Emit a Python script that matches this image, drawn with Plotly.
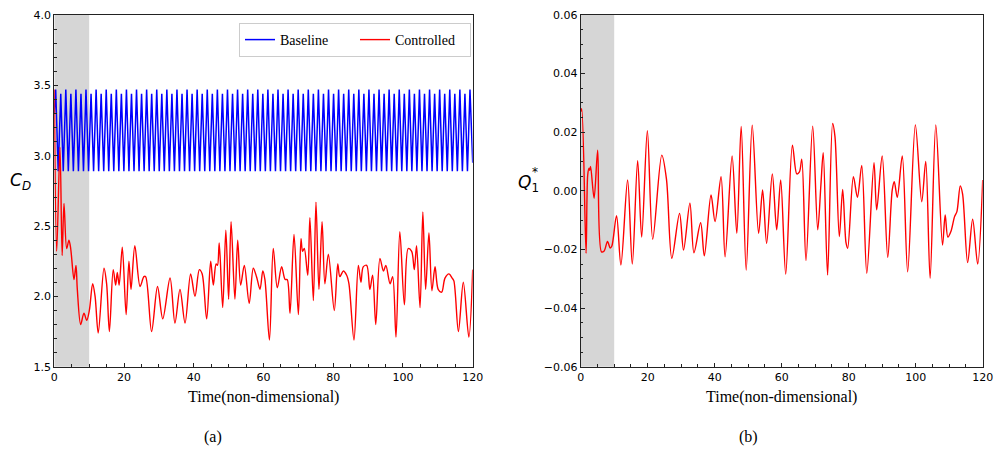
import plotly.graph_objects as go

# ---------------- data ----------------
# Baseline C_D: extrema of the periodic signal (time, value)
base_t = [0.00,
    0.40, 1.12, 1.85, 2.57, 3.30, 4.02, 4.75, 5.47, 6.20, 6.92,
    7.65, 8.37, 9.09, 9.82, 10.54, 11.27, 11.99, 12.72, 13.44, 14.17,
    14.89, 15.61, 16.34, 17.06, 17.79, 18.51, 19.24, 19.96, 20.69, 21.41,
    22.14, 22.86, 23.58, 24.31, 25.03, 25.76, 26.48, 27.21, 27.93, 28.66,
    29.38, 30.10, 30.83, 31.55, 32.28, 33.00, 33.73, 34.45, 35.18, 35.90,
    36.63, 37.35, 38.07, 38.80, 39.52, 40.25, 40.97, 41.70, 42.42, 43.15,
    43.87, 44.59, 45.32, 46.04, 46.77, 47.49, 48.22, 48.94, 49.67, 50.39,
    51.12, 51.84, 52.56, 53.29, 54.01, 54.74, 55.46, 56.19, 56.91, 57.64,
    58.36, 59.08, 59.81, 60.53, 61.26, 61.98, 62.71, 63.43, 64.16, 64.88,
    65.61, 66.33, 67.05, 67.78, 68.50, 69.23, 69.95, 70.68, 71.40, 72.13,
    72.85, 73.57, 74.30, 75.02, 75.75, 76.47, 77.20, 77.92, 78.65, 79.37,
    80.10, 80.82, 81.54, 82.27, 82.99, 83.72, 84.44, 85.17, 85.89, 86.62,
    87.34, 88.06, 88.79, 89.51, 90.24, 90.96, 91.69, 92.41, 93.14, 93.86,
    94.59, 95.31, 96.03, 96.76, 97.48, 98.21, 98.93, 99.66, 100.38, 101.11,
    101.83, 102.55, 103.28, 104.00, 104.73, 105.45, 106.18, 106.90, 107.63, 108.35,
    109.08, 109.80, 110.52, 111.25, 111.97, 112.70, 113.42, 114.15, 114.87, 115.60,
    116.32, 117.04, 117.77, 118.49, 119.22,
    120.00]
base_v = [3.30,
    3.47, 2.89, 3.44, 2.89, 3.47, 2.89, 3.44, 2.89,
    3.47, 2.89, 3.44, 2.89, 3.47, 2.89, 3.44, 2.89,
    3.47, 2.89, 3.44, 2.89, 3.47, 2.89, 3.44, 2.89,
    3.47, 2.89, 3.44, 2.89, 3.47, 2.89, 3.44, 2.89,
    3.47, 2.89, 3.44, 2.89, 3.47, 2.89, 3.44, 2.89,
    3.47, 2.89, 3.44, 2.89, 3.47, 2.89, 3.44, 2.89,
    3.47, 2.89, 3.44, 2.89, 3.47, 2.89, 3.44, 2.89,
    3.47, 2.89, 3.44, 2.89, 3.47, 2.89, 3.44, 2.89,
    3.47, 2.89, 3.44, 2.89, 3.47, 2.89, 3.44, 2.89,
    3.47, 2.89, 3.44, 2.89, 3.47, 2.89, 3.44, 2.89,
    3.47, 2.89, 3.44, 2.89, 3.47, 2.89, 3.44, 2.89,
    3.47, 2.89, 3.44, 2.89, 3.47, 2.89, 3.44, 2.89,
    3.47, 2.89, 3.44, 2.89, 3.47, 2.89, 3.44, 2.89,
    3.47, 2.89, 3.44, 2.89, 3.47, 2.89, 3.44, 2.89,
    3.47, 2.89, 3.44, 2.89, 3.47, 2.89, 3.44, 2.89,
    3.47, 2.89, 3.44, 2.89, 3.47, 2.89, 3.44, 2.89,
    3.47, 2.89, 3.44, 2.89, 3.47, 2.89, 3.44, 2.89,
    3.47, 2.89, 3.44, 2.89, 3.47, 2.89, 3.44, 2.89,
    3.47, 2.89, 3.44, 2.89, 3.47, 2.89, 3.44, 2.89,
    3.47, 2.89, 3.44, 2.89, 3.47, 2.89, 3.44, 2.89,
    3.47, 2.89, 3.44, 2.89, 3.47,
    2.95]

# Controlled C_D
ctrl_t = [0.0, 0.69, 1.63, 2.25, 2.78, 3.55, 4.2, 4.7, 5.65, 6.22, 6.6, 7.56, 8.5, 9.3,
          10.05, 11.0, 11.7, 12.6, 14.25, 15.0, 15.8, 16.9, 17.6, 18.07, 18.6, 19.5,
          20.6, 21.4, 22.0, 23.1, 24.6, 25.7, 26.2, 27.9, 29.6, 31.1, 33.2, 34.6,
          36.05, 37.5, 39.1, 40.35, 41.6, 42.4, 43.7, 44.85, 45.6, 46.4, 46.8, 47.3,
          48.3, 49.2, 50.0, 50.7, 51.8, 52.6, 53.45, 54.5, 55.9, 57.07, 58.0, 59.0,
          59.8, 60.4, 61.7, 62.8, 63.95, 65.2, 66.2, 66.8, 67.6, 68.75, 70.0, 70.75,
          71.2, 71.7, 72.7, 73.3, 74.3, 75.05, 75.9, 76.8, 77.6, 78.6, 80.3, 81.3,
          81.9, 82.9, 83.85, 84.5, 85.95, 87.2, 87.95, 88.6, 89.6, 90.5, 91.3, 92.2,
          93.4, 94.4, 95.1, 96.3, 97.05, 98.0, 99.1, 100.4, 101.5, 102.5, 103.25,
          103.9, 104.9, 105.7, 106.5, 107.45, 108.3, 109.2, 110.1, 111.1, 112.05,
          113.2, 114.1, 114.6, 115.9, 117.3, 118.9, 120.0]
ctrl_v = [3.47, 2.32, 3.06, 2.29, 2.66, 2.34, 2.40, 2.34, 2.12, 2.22, 2.05, 1.80, 1.88, 1.83,
          1.90, 2.09, 2.00, 1.74, 2.20, 2.09, 1.75, 2.19, 2.08, 2.17, 2.08, 2.35,
          1.87, 2.25, 2.05, 2.36, 2.07, 2.14, 2.14, 1.75, 2.07, 1.84, 2.13, 1.81,
          2.05, 1.81, 2.16, 2.00, 2.19, 2.16, 1.84, 2.25, 2.08, 2.23, 2.22, 2.38,
          1.92, 2.47, 1.98, 2.53, 1.98, 2.40, 2.08, 2.22, 1.95, 2.20, 2.14, 2.05,
          2.18, 2.12, 1.69, 2.34, 2.06, 2.21, 2.12, 2.12, 1.88, 2.44, 1.87, 2.41,
          2.32, 2.34, 2.15, 2.56, 1.97, 2.67, 2.05, 2.53, 2.09, 2.30, 1.90, 2.23,
          2.14, 2.18, 2.15, 2.09, 1.69, 2.22, 2.10, 2.21, 2.22, 2.05, 2.15, 1.80,
          2.27, 2.18, 2.22, 2.09, 2.14, 1.71, 2.46, 1.94, 2.34, 2.32, 2.19,
          2.36, 1.92, 2.60, 2.05, 2.45, 2.04, 2.21, 2.05, 2.03, 2.13,
          2.16, 2.13, 2.11, 1.75, 2.10, 1.71, 2.19]

# Controlled Q1*
q_t = [0.0, 0.3, 1.6, 2.1, 2.5, 2.7, 2.95, 4.0, 5.07, 6.2, 7.0, 8.0, 8.8, 9.3, 10.7, 12.0,
       14.0, 15.4, 17.0, 18.2, 19.9, 21.5, 24.2, 25.6, 27.2, 29.5, 30.7, 32.6, 33.8,
       35.8, 36.9, 38.9, 40.1, 41.9, 43.1, 45.2, 46.6, 47.9, 49.4, 51.2, 53.1, 54.3,
       55.5, 57.2, 58.5, 59.7, 61.2, 63.2, 64.5, 65.3, 66.0, 67.25, 69.25, 70.75,
       71.7, 72.4, 73.7, 75.2, 75.9, 77.2, 78.2, 79.2, 79.7, 81.4, 82.6, 83.9, 85.4,
       87.55, 88.35, 90.0, 91.65, 93.0, 93.6, 94.5, 96.0, 97.6, 99.9, 101.8, 103.0,
       104.3, 106.0, 108.0, 108.8, 109.6, 110.5, 111.6, 112.3, 113.3, 114.0, 115.5,
       117.0, 118.5, 120.0]
q_v = [0.0270, 0.0280, -0.0213, 0.0055, 0.0077, 0.0070, 0.0083, -0.0025, 0.0139, -0.0208,
       -0.0205, -0.0173, -0.0195, -0.0188, -0.0085, -0.0253,
       0.0037, -0.0250, 0.0103, -0.0158, 0.0205, -0.0165, 0.0122, 0.0040, -0.0230,
       -0.0077, -0.0202, -0.0042, -0.0211,
       -0.0109, -0.0222, -0.0014, -0.0105, 0.0048, -0.0225, 0.0119, -0.0145, 0.0220,
       -0.0270, 0.0224, -0.0145, 0.0003,
       -0.0179, 0.0058, -0.0133, 0.0037, -0.0284, 0.0156, 0.0058, 0.0065, 0.0108,
       -0.0238, 0.0221, -0.0133,
       0.0020, 0.0130, -0.0287, 0.0230, 0.0185, -0.0156, 0.0005, -0.0177, -0.0196,
       0.0048, -0.0022, 0.0087, -0.0281,
       0.0096, -0.0065, 0.0119, -0.0227, 0.0003, 0.0031, -0.0022, 0.0119, -0.0276,
       0.0225, -0.0037, 0.0100,
       -0.0298, 0.0225, -0.0185, -0.0082, -0.0158, -0.0139, -0.0088, -0.0071, 0.0017,
       -0.0011, -0.0245,
       -0.0097, -0.0250, 0.0037]

x_ticks = [0, 20, 40, 60, 80, 100, 120]
x_title = "Time(non-dimensional)"

# ---------------- figure ----------------
SERIF = "Liberation Serif, Times New Roman, serif"
SANS = "DejaVu Sans, sans-serif"

fig = go.Figure()
fig.add_trace(go.Scatter(x=base_t, y=base_v, mode="lines", name="Baseline",
                         line=dict(color="#0000ff", width=1.5), xaxis="x", yaxis="y"))
fig.add_trace(go.Scatter(x=ctrl_t, y=ctrl_v, mode="lines", name="Controlled",
                         line=dict(color="#ff0000", width=1.4, shape="spline", smoothing=0.9),
                         xaxis="x", yaxis="y"))
fig.add_trace(go.Scatter(x=q_t, y=q_v, mode="lines", name="Controlled", showlegend=False,
                         line=dict(color="#ff0000", width=1.4, shape="spline", smoothing=0.9),
                         xaxis="x2", yaxis="y2"))


def axis(domain, rng, dtick, minor_dtick, fmt=None, tickvals=None, anchor=None):
    d = dict(domain=domain, range=rng, showline=True, linecolor="#222", linewidth=1,
             mirror=True, ticks="inside", ticklen=4, tickwidth=1, tickcolor="#222",
             showgrid=False, zeroline=False, automargin=False,
             tickfont=dict(family=SANS, size=11, color="black"),
             minor=dict(ticks="inside", ticklen=2.5, tickwidth=1, tickcolor="#222",
                        dtick=minor_dtick, showgrid=False),
             anchor=anchor)
    if tickvals is not None:
        d["tickmode"] = "array"
        d["tickvals"] = tickvals
    else:
        d["dtick"] = dtick
        d["tick0"] = rng[0]
    if fmt:
        d["tickformat"] = fmt
    return d


ydom = [1 - 366.7 / 450, 1 - 15 / 450]
fig.update_layout(
    width=995, height=450, autosize=False,
    margin=dict(l=0, r=0, t=0, b=0, pad=0, autoexpand=False),
    paper_bgcolor="white", plot_bgcolor="white",
    xaxis=axis([54.3 / 995, 472.7 / 995], [0, 120], 20, 5, tickvals=x_ticks, anchor="y"),
    yaxis=axis(ydom, [1.5, 4.0], 0.5, 0.1, fmt=".1f", anchor="x"),
    xaxis2=axis([580.7 / 995, 982.7 / 995], [0, 120], 20, 5, tickvals=x_ticks, anchor="y2"),
    yaxis2=axis(ydom, [-0.06, 0.06], 0.02, 0.005, fmt=".2f", anchor="x2"),
    legend=dict(orientation="h", x=239 / 995, y=1 - 23 / 450, xanchor="left", yanchor="top",
                font=dict(family=SERIF, size=14, color="black"),
                bgcolor="rgba(255,255,255,0.85)", bordercolor="#cccccc", borderwidth=1,
                entrywidth=70, itemwidth=30),
    showlegend=True,
)

shade = "#d6d6d6"
for xr, yr in (("x", "y domain"), ("x2", "y2 domain")):
    fig.add_shape(type="rect", xref=xr, yref=yr, x0=0, x1=10, y0=0, y1=1,
                  fillcolor=shade, line=dict(width=0), layer="below")


def note(x, y, text, family, size):
    return dict(x=x / 995, y=1 - y / 450, xref="paper", yref="paper", text=text,
                showarrow=False, xanchor="center", yanchor="middle",
                font=dict(family=family, size=size, color="black"))


ann = [note(263.5, 397, x_title, SERIF, 16),
       note(781.7, 397, x_title, SERIF, 16),
       note(213, 437, "(a)", SERIF, 16),
       note(748, 437, "(b)", SERIF, 16),
       note(20, 182, "<i>C</i><sub><i>D</i></sub>", SANS, 17),
       note(528, 183, "<i>Q</i><sub>1</sub>", SANS, 17),
       note(535, 172, "*", SANS, 12)]
fig.update_layout(annotations=ann)

fig.write_html("out.html")
